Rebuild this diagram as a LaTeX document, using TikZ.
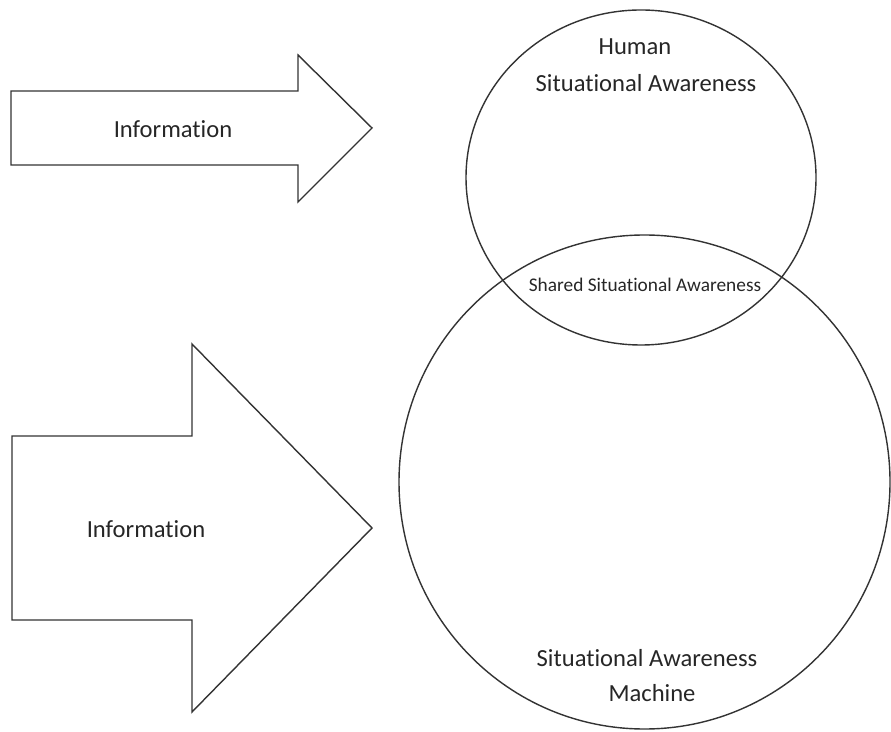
\documentclass[tikz,border=0pt]{standalone}
\usepackage{fontspec}
\setmainfont{Carlito}[Ligatures={NoCommon}]
\begin{document}
\begin{tikzpicture}[x=0.02cm,y=-0.02cm,
  shape line/.style={draw=black!80,line width=0.8pt,line join=miter},
  bigtext/.style={font=\fontsize{14}{20}\selectfont,text=black!85,inner sep=0pt},
  smalltext/.style={font=\fontsize{11}{14}\selectfont,text=black!85,inner sep=0pt}]
\useasboundingbox (0,0) rectangle (891,732);
% top arrow
\draw[shape line] (11,91) -- (298,91) -- (298,55) -- (372,128) -- (298,202) -- (298,165) -- (11,165) -- cycle;
% bottom arrow
\draw[shape line] (12,436) -- (192,436) -- (192,344) -- (372,528) -- (192,712) -- (192,620) -- (12,620) -- cycle;
% circles
\draw[shape line] (641,177.5) ellipse [x radius=175, y radius=167.5];
\draw[shape line] (644.5,482) ellipse [x radius=245.5, y radius=247];
% texts
\node[bigtext] (info1) at (173,129) {Information};
\node[bigtext] (info2) at (146,529) {Information};
\node[bigtext] (human) at (635,47) {Human};
\node[bigtext] (hsa) at (646,83) {Situational Awareness};
\node[smalltext] (ssa) at (645,285) {Shared Situational Awareness};
\node[bigtext] (msa) at (647,658) {Situational Awareness};
\node[bigtext] (mach) at (652,693) {Machine};
\end{tikzpicture}
\end{document}
